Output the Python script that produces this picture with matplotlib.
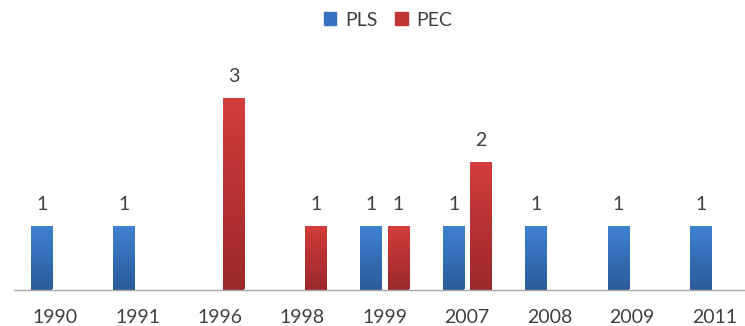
import matplotlib
matplotlib.use("Agg")
import matplotlib.pyplot as plt
import numpy as np
from matplotlib.colors import LinearSegmentedColormap
from matplotlib.patches import Patch

years = ["1990", "1991", "1996", "1998", "1999", "2007", "2008", "2009", "2011"]
pls = [1, 1, 0, 0, 1, 1, 1, 1, 1]
pec = [0, 0, 3, 1, 1, 2, 0, 0, 0]

# gradient colours (top, bottom) for each series
pls_cols = ("#3f82d2", "#2a5c9a")
pec_cols = ("#d43c3c", "#9c2929")

plt.rcParams['font.family'] = ['Lato', 'DejaVu Sans']

fig = plt.figure(figsize=(7.45, 3.26), dpi=100)
ax = fig.add_axes([14 / 745, 36.5 / 326, 9 * 82.4 / 745, 224 / 326])

x = np.arange(len(years))
w = 0.26
off = 0.165


def grad_bars(xpos, vals, cols, label):
    bars = ax.bar(xpos, vals, w, color=cols[1], label=label, zorder=2)
    cmap = LinearSegmentedColormap.from_list(label, [cols[1], cols[0]])
    grad = np.linspace(0, 1, 100).reshape(-1, 1)
    for b, v in zip(bars, vals):
        if v == 0:
            b.set_visible(False)
            continue
        x0, y0 = b.get_x(), b.get_y()
        im = ax.imshow(grad, extent=[x0, x0 + b.get_width(), y0, y0 + b.get_height()],
                       origin='lower', cmap=cmap, aspect='auto', zorder=3)
        im.set_clip_path(b)
        ax.annotate(str(v), (b.get_x() + b.get_width() / 2, v), xytext=(0, 9),
                    textcoords='offset points', ha='center', va='bottom',
                    fontsize=14, color='#404040')
    return bars


grad_bars(x - off, pls, pls_cols, "PLS")
grad_bars(x + off, pec, pec_cols, "PEC")

ax.set_xlim(-0.5, len(years) - 0.5)
ax.set_ylim(0, 3.5)
ax.set_xticks(x)
ax.set_xticklabels(years, fontsize=14, color='#404040')
ax.tick_params(axis='x', length=0, pad=14)
ax.set_yticks([])
for s in ['top', 'right', 'left']:
    ax.spines[s].set_visible(False)
ax.spines['bottom'].set_color('#a6a6a6')
ax.spines['bottom'].set_linewidth(1.0)

handles = [Patch(color="#3572c0", label="PLS"), Patch(color="#c33434", label="PEC")]
fig.legend(handles=handles, loc='center', bbox_to_anchor=(388 / 745, 1 - 20 / 326),
           ncol=2, frameon=False, fontsize=14, handlelength=0.65, handleheight=0.65,
           handletextpad=0.45, columnspacing=0.9, labelcolor='#404040')

fig.savefig("out.png", dpi=100)
